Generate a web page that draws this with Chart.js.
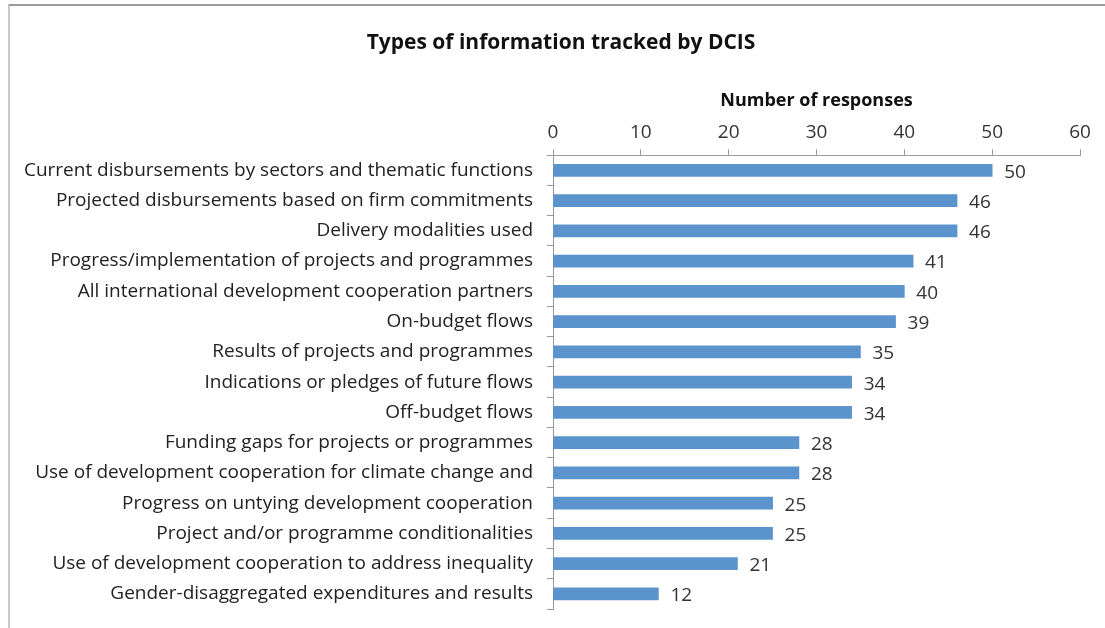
<!DOCTYPE html>
<html>
<head>
<meta charset="utf-8">
<script src="https://cdn.jsdelivr.net/npm/chart.js@4"></script>
<style>
  body { margin: 0; background: #fff; }
  #wrap { position: relative; width: 1105px; height: 628px; }
  #frame { position: absolute; left: 8px; top: 4px; right: -2px; bottom: -2px; border-top: 2px solid #9a9a9a; border-left: 2px solid #c8c8c8; }
  canvas { position: absolute; left: 0; top: 0; }
</style>
</head>
<body>
<div id="wrap">
  <div id="frame"></div>
  <canvas id="myChart" width="1105" height="628"></canvas>
</div>
<script>
const categories = [
  "Current disbursements by sectors and thematic functions",
  "Projected disbursements based on firm commitments",
  "Delivery modalities used",
  "Progress/implementation of projects and programmes",
  "All international development cooperation partners",
  "On-budget flows",
  "Results of projects and programmes",
  "Indications or pledges of future flows",
  "Off-budget flows",
  "Funding gaps for projects or programmes",
  "Use of development cooperation for climate change and",
  "Progress on untying development cooperation",
  "Project and/or programme conditionalities",
  "Use of development cooperation to address inequality",
  "Gender-disaggregated expenditures and results"
];
const responses = [50, 46, 46, 41, 40, 39, 35, 34, 34, 28, 28, 25, 25, 21, 12];
const xTicks = [0, 10, 20, 30, 40, 50, 60];

const fontFamily = "'Open Sans', sans-serif";

// value labels at the end of each bar
const valueLabels = {
  id: "valueLabels",
  afterLayout(chart) {
    // let the long category labels run past the left padding (no clipping)
    chart.scales.y.left = 0;
  },
  afterDatasetsDraw(chart) {
    const ctx = chart.ctx;
    const meta = chart.getDatasetMeta(0);
    ctx.save();
    ctx.font = "19px " + fontFamily;
    ctx.fillStyle = "#333";
    ctx.textAlign = "left";
    ctx.textBaseline = "middle";
    meta.data.forEach((bar, i) => {
      ctx.fillText(String(responses[i]), bar.x + 12, bar.y + 2);
    });
    ctx.restore();
  }
};

const ctx = document.getElementById("myChart").getContext("2d");
const myChart = new Chart(ctx, {
  type: "bar",
  data: {
    labels: categories,
    datasets: [{
      label: "Number of responses",
      data: responses,
      backgroundColor: "#5b93cc",
      borderWidth: 0,
      barThickness: 12
    }]
  },
  options: {
    indexAxis: "y",
    responsive: false,
    animation: false,
    layout: { padding: { left: 42, right: 25, top: 0, bottom: 19 } },
    plugins: {
      legend: { display: false },
      tooltip: { enabled: false },
      title: {
        display: true,
        text: "Types of information tracked by DCIS",
        color: "#111",
        font: { family: fontFamily, size: 21, weight: "bold" },
        padding: { top: 30, bottom: 33 }
      }
    },
    scales: {
      x: {
        position: "top",
        min: 0,
        max: 60,
        afterBuildTicks(scale) {
          scale.ticks = xTicks.map(v => ({ value: v }));
        },
        afterFit(scale) {
          scale.height = 67;
        },
        title: {
          display: true,
          text: "Number of responses",
          color: "#111",
          font: { family: fontFamily, size: 18, weight: "bold" },
          padding: { top: 2, bottom: 0 }
        },
        ticks: {
          color: "#333",
          font: { family: fontFamily, size: 19 },
          padding: 5,
          maxRotation: 0
        },
        grid: { drawOnChartArea: false, tickLength: 6, color: "#999" },
        border: { color: "#999" }
      },
      y: {
        afterFit(scale) {
          scale.width = 553 - 42;
          scale.paddingTop = 0;
          scale.paddingBottom = 0;
        },
        ticks: {
          color: "#222",
          font: { family: fontFamily, size: 19 },
          padding: 14,
          autoSkip: false
        },
        grid: { drawOnChartArea: false, tickLength: 6, color: "#999", offset: true },
        border: { color: "#999" }
      }
    }
  },
  plugins: [valueLabels]
});
</script>
</body>
</html>
